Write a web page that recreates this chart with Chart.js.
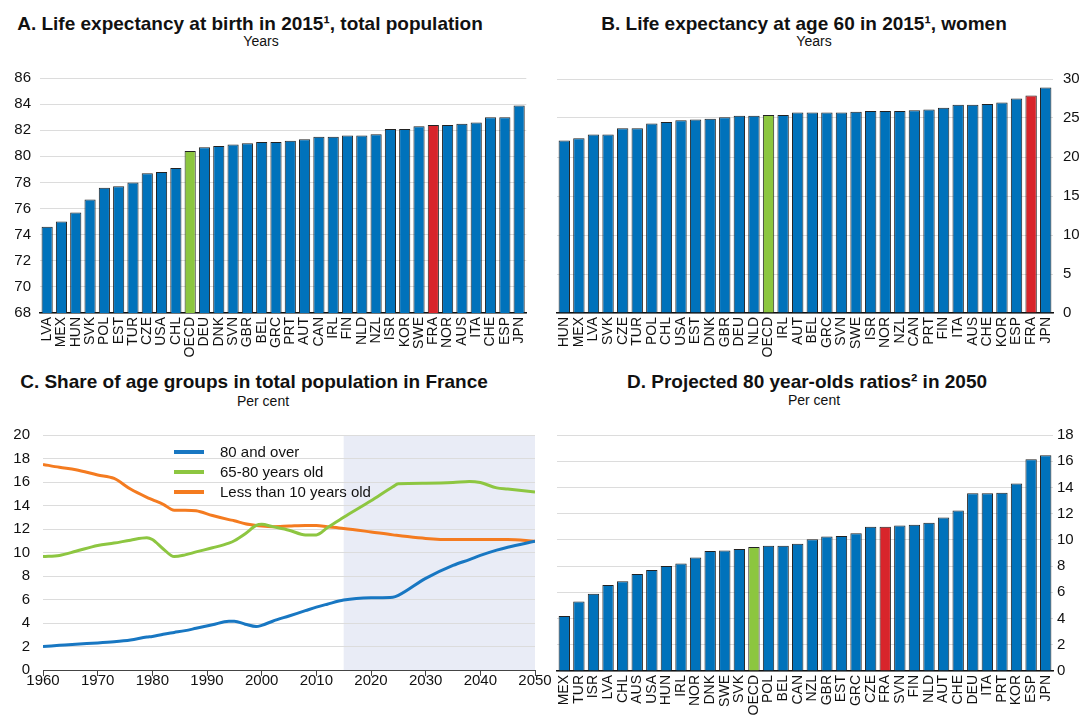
<!DOCTYPE html>
<html lang="en">
<head>
<meta charset="UTF-8">
<title>Life expectancy and ageing</title>
<script src="https://cdn.jsdelivr.net/npm/chart.js"></script>
<style>
  body { margin: 0; background: #fff; font-family: "Liberation Sans", Arial, sans-serif; }
  .wrap { position: relative; width: 1085px; height: 718px; overflow: hidden; }
  .wrap canvas { position: absolute; }
  .title, .sub { position: absolute; transform: translateX(-50%); white-space: nowrap; color: #111; }
  .title { font-weight: bold; font-size: 19px; }
  .sub { font-size: 14px; }
</style>
</head>
<body>
<div class="wrap">
  <div class="title" style="left:250px; top:13px">A. Life expectancy at birth in 2015¹, total population</div>
  <div class="sub" style="left:261px; top:33px">Years</div>
  <div class="title" style="left:804px; top:13px">B. Life expectancy at age 60 in 2015¹, women</div>
  <div class="sub" style="left:814px; top:33px">Years</div>
  <div class="title" style="left:254px; top:371px">C. Share of age groups in total population in France</div>
  <div class="sub" style="left:263px; top:393px">Per cent</div>
  <div class="title" style="left:807px; top:371px">D. Projected 80 year-olds ratios² in 2050</div>
  <div class="sub" style="left:814px; top:392px">Per cent</div>

  <canvas id="chartA" width="540" height="300" style="left:0; top:60px"></canvas>
  <canvas id="chartB" width="540" height="300" style="left:545px; top:60px"></canvas>
  <canvas id="chartD" width="540" height="296" style="left:545px; top:422px"></canvas>
  <canvas id="chartC" width="565" height="305" style="left:0; top:413px"></canvas>
</div>

<script>
// A. life expectancy at birth, 2015
const countriesBirth = ['LVA','MEX','HUN','SVK','POL','EST','TUR','CZE','USA','CHL','OECD','DEU','DNK','SVN','GBR','BEL','GRC','PRT','AUT','CAN','IRL','FIN','NLD','NZL','ISR','KOR','SWE','FRA','NOR','AUS','ITA','CHE','ESP','JPN'];
const lifeBirth = [74.6,75.0,75.7,76.7,77.6,77.7,78.0,78.7,78.8,79.1,80.4,80.7,80.8,80.9,81.0,81.1,81.1,81.2,81.3,81.5,81.5,81.6,81.6,81.7,82.1,82.1,82.3,82.4,82.4,82.5,82.6,83.0,83.0,83.9];
const birthTicks = [68,70,72,74,76,78,80,82,84,86];

// B. life expectancy at age 60, women, 2015
const countries60 = ['HUN','MEX','LVA','SVK','CZE','TUR','POL','CHL','USA','EST','DNK','GBR','DEU','NLD','OECD','IRL','AUT','BEL','GRC','SVN','SWE','ISR','NOR','NZL','CAN','PRT','FIN','ITA','AUS','CHE','KOR','ESP','FRA','JPN'];
const life60Women = [22.1,22.4,22.9,22.9,23.7,23.7,24.3,24.5,24.7,24.8,24.9,25.1,25.3,25.3,25.4,25.4,25.7,25.7,25.7,25.7,25.8,25.9,25.9,25.9,26.0,26.1,26.3,26.7,26.7,26.8,27.0,27.5,27.9,28.9];
const age60Ticks = [0,5,10,15,20,25,30];

// C. share of age groups in the French population (projection from 2015)
const years = [1960,1963,1966,1970,1973,1976,1979,1980,1982,1984,1986,1988,1991,1994,1995,1997,1999,2000,2002,2005,2008,2010,2012,2015,2020,2024,2025,2030,2035,2038,2040,2043,2045,2050];
const share80Plus = [2.0,2.1,2.2,2.3,2.4,2.55,2.8,2.85,3.05,3.2,3.35,3.55,3.85,4.15,4.15,3.9,3.7,3.8,4.15,4.6,5.05,5.35,5.6,5.95,6.15,6.2,6.35,7.8,8.9,9.4,9.75,10.2,10.45,10.95];
const share65to80 = [9.65,9.75,10.1,10.6,10.8,11.05,11.25,11.1,10.3,9.65,9.8,10.05,10.4,10.8,11.0,11.6,12.3,12.4,12.2,11.9,11.5,11.5,12.1,13.0,14.4,15.6,15.85,15.9,15.95,16.05,15.95,15.5,15.4,15.15];
const shareUnder10 = [17.5,17.25,17.05,16.6,16.3,15.4,14.7,14.5,14.1,13.6,13.6,13.55,13.15,12.8,12.7,12.45,12.3,12.25,12.2,12.25,12.3,12.3,12.2,12.05,11.75,11.5,11.45,11.2,11.1,11.1,11.1,11.1,11.1,10.95];
const groupNames = ['80 and over','65-80 years old','Less than 10 years old'];
const projectionStart = 2015;
const shareTicks = [0,2,4,6,8,10,12,14,16,18,20];

// D. projected 80 year-olds ratios in 2050
const countries80 = ['MEX','TUR','ISR','LVA','CHL','AUS','USA','HUN','IRL','NOR','DNK','SWE','SVK','OECD','POL','BEL','CAN','NZL','GBR','EST','GRC','CZE','FRA','SVN','FIN','NLD','AUT','CHE','DEU','ITA','PRT','KOR','ESP','JPN'];
const ratio80 = [4.2,5.3,5.9,6.55,6.85,7.4,7.7,8.0,8.2,8.65,9.15,9.2,9.3,9.45,9.55,9.55,9.7,10.05,10.25,10.3,10.5,11.0,11.0,11.1,11.15,11.3,11.7,12.25,13.55,13.55,13.6,14.3,16.15,16.45];
const ratioTicks = [0,2,4,6,8,10,12,14,16,18];

const BLUE = '#0072bb', RED = '#d8252b', GREEN = '#8cc63f';
const LINE_COLORS = ['#1877c2', '#8dc641', '#f47b20'];

Chart.defaults.font.family = '"Liberation Sans", Arial, sans-serif';
Chart.defaults.color = '#111';

function barChart(id, labels, values, ticks, side, box) {
  const colors = labels.map(c => c === 'FRA' ? RED : (c === 'OECD' ? GREEN : BLUE));
  return new Chart(document.getElementById(id), {
    type: 'bar',
    data: {
      labels: labels,
      datasets: [{
        data: values,
        backgroundColor: colors,
        borderColor: '#222',
        borderWidth: 1,
        barPercentage: 0.78,
        categoryPercentage: 1
      }]
    },
    options: {
      responsive: false,
      animation: false,
      layout: { padding: box.pad },
      plugins: { legend: { display: false }, tooltip: { enabled: false } },
      scales: {
        x: {
          grid: { display: false, drawTicks: false },
          border: { color: '#111', width: 1.5 },
          ticks: { autoSkip: false, minRotation: 90, maxRotation: 90, padding: 4, font: { size: 14 } },
          afterFit: s => { s.height = box.xh; }
        },
        y: {
          position: side,
          min: ticks[0],
          max: ticks[ticks.length - 1],
          grid: { color: '#dcdcdc', drawTicks: false },
          border: { display: false },
          ticks: { stepSize: ticks[1] - ticks[0], padding: box.tp, font: { size: 15 } },
          afterFit: s => { s.width = box.yw; }
        }
      }
    }
  });
}

barChart('chartA', countriesBirth, lifeBirth, birthTicks, 'left',
  { pad: { top: 17, right: 4, left: 0, bottom: 0 }, xh: 47, yw: 40, tp: 9 });
barChart('chartB', countries60, life60Women, age60Ticks, 'right',
  { pad: { top: 17, right: 0, left: 12, bottom: 0 }, xh: 47, yw: 32, tp: 10 });
barChart('chartD', countries80, ratio80, ratioTicks, 'right',
  { pad: { top: 9, right: 0, left: 12, bottom: 0 }, xh: 47, yw: 32, tp: 4 });

// shaded projection period
const projectionShade = {
  id: 'projectionShade',
  beforeDraw(chart, args, opts) {
    const { ctx, chartArea, scales } = chart;
    const left = scales.x.getPixelForValue(opts.from);
    ctx.save();
    ctx.fillStyle = opts.color;
    ctx.fillRect(left, chartArea.top, chartArea.right - left, chartArea.bottom - chartArea.top);
    ctx.restore();
  }
};

// legend drawn inside the plot, one row per series
const insideLegend = {
  id: 'insideLegend',
  afterDatasetsDraw(chart, args, opts) {
    const { ctx, chartArea } = chart;
    ctx.save();
    chart.data.datasets.forEach((ds, i) => {
      const y = chartArea.top + opts.top + i * opts.gap;
      const x0 = chartArea.left + opts.left;
      ctx.strokeStyle = ds.borderColor;
      ctx.lineWidth = 4;
      ctx.beginPath();
      ctx.moveTo(x0, y);
      ctx.lineTo(x0 + opts.swatch, y);
      ctx.stroke();
      ctx.fillStyle = '#111';
      ctx.font = '15px "Liberation Sans", Arial, sans-serif';
      ctx.textBaseline = 'middle';
      ctx.fillText(ds.label, x0 + opts.swatch + 16, y + 1);
    });
    ctx.restore();
  }
};

const series = [share80Plus, share65to80, shareUnder10];

new Chart(document.getElementById('chartC'), {
  type: 'line',
  data: {
    datasets: series.map((vals, i) => ({
      label: groupNames[i],
      data: years.map((yr, j) => ({ x: yr, y: vals[j] })),
      borderColor: LINE_COLORS[i],
      borderWidth: 3,
      pointRadius: 0,
      cubicInterpolationMode: 'monotone'
    }))
  },
  options: {
    responsive: false,
    animation: false,
    layout: { padding: { top: 9, right: 30, left: 0, bottom: 0 } },
    plugins: {
      legend: { display: false },
      tooltip: { enabled: false },
      projectionShade: { from: projectionStart, color: '#e9ecf6' },
      insideLegend: { left: 131, top: 17, gap: 20, swatch: 30 }
    },
    scales: {
      x: {
        type: 'linear',
        min: years[0],
        max: years[years.length - 1],
        grid: { drawOnChartArea: false, tickLength: 6, color: '#444' },
        border: { color: '#444', width: 1 },
        ticks: { stepSize: 5, maxRotation: 0, padding: -4, font: { size: 15 },
          callback: v => (v % 10 === 0 ? v : '') },
        afterFit: s => { s.height = 48; }
      },
      y: {
        min: shareTicks[0],
        max: shareTicks[shareTicks.length - 1],
        grid: { color: '#dcdcdc', drawTicks: false },
        border: { display: false },
        ticks: { stepSize: shareTicks[1] - shareTicks[0], padding: 13, font: { size: 15 } },
        afterFit: s => { s.width = 43; }
      }
    }
  },
  plugins: [projectionShade, insideLegend]
});
</script>
</body>
</html>
